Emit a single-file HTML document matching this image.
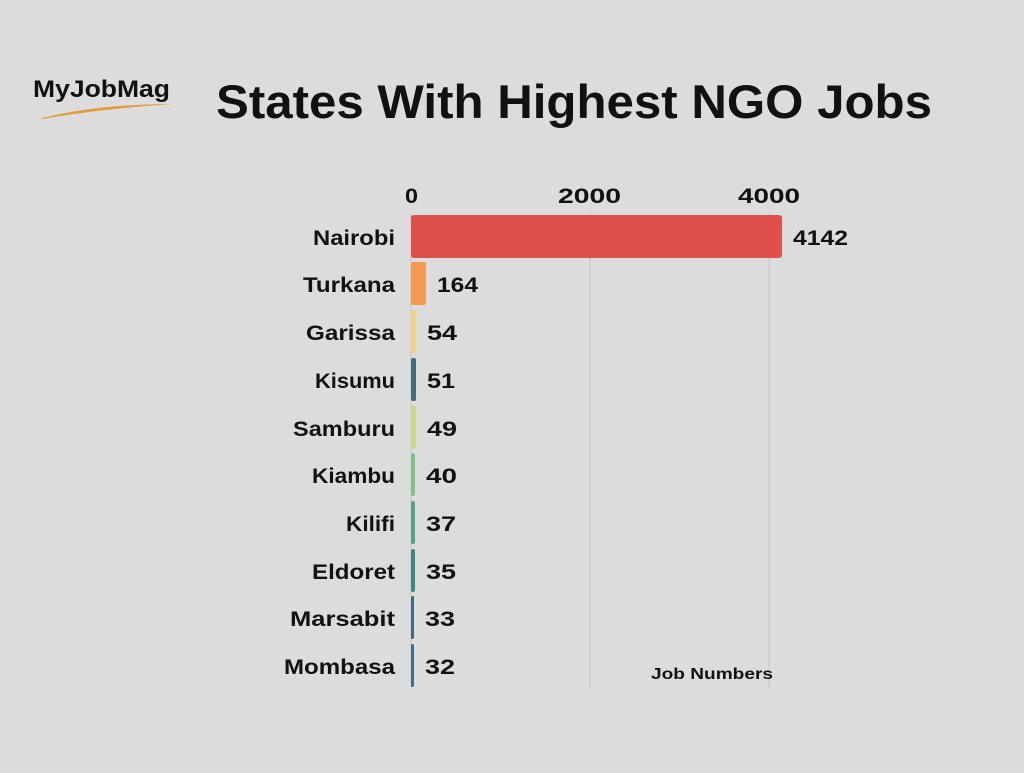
<!DOCTYPE html>
<html><head><style>
body{margin:0;background:#dcdcdc;}
svg text{font-family:"Liberation Sans",sans-serif;font-weight:bold;fill:#111;}
</style></head><body>
<svg width="1024" height="768" viewBox="0 0 1024 768">
<rect width="1024" height="768" fill="#dcdcdc"/>
<text x="33" y="97" font-size="24" fill="#222" textLength="137" lengthAdjust="spacingAndGlyphs">MyJobMag</text>
<path d="M42 118 Q100 104 172 104 Q100 109 42 119 Z" fill="#e59a3c"/>
<text x="216" y="118" font-size="47" textLength="716" lengthAdjust="spacingAndGlyphs">States With Highest NGO Jobs</text>
<g font-size="21">
<text x="405" y="203" textLength="13" lengthAdjust="spacingAndGlyphs">0</text>
<text x="558" y="203" textLength="63" lengthAdjust="spacingAndGlyphs">2000</text>
<text x="738" y="203" textLength="62" lengthAdjust="spacingAndGlyphs">4000</text>
</g>
<line x1="590" y1="214" x2="590" y2="688" stroke="#c4c4c4" stroke-width="1"/>
<line x1="769" y1="214" x2="769" y2="688" stroke="#c4c4c4" stroke-width="1"/>
<line x1="411" y1="214" x2="411" y2="688" stroke="#c4c4c4" stroke-width="1"/>
<g>
<rect x="411" y="215" width="371" height="43" rx="3" fill="#e0504a"/>
<rect x="411" y="262" width="15" height="43" rx="2" fill="#ef9c4e"/>
<rect x="411" y="310" width="5" height="43" rx="2" fill="#f2d27e"/>
<rect x="411" y="358" width="5" height="43" rx="2" fill="#3f6f7a"/>
<rect x="411" y="406" width="5" height="43" rx="2" fill="#c6dc8a"/>
<rect x="411" y="453" width="4" height="43" rx="2" fill="#84c184"/>
<rect x="411" y="501" width="4" height="43" rx="2" fill="#4fa585"/>
<rect x="411" y="549" width="4" height="43" rx="2" fill="#3b8a80"/>
<rect x="411" y="596" width="3" height="43" rx="1.5" fill="#3d6a7c"/>
<rect x="411" y="644" width="3" height="43" rx="1.5" fill="#3c6e9a"/>
</g>
<g font-size="21">
<text x="313" y="245" textLength="82" lengthAdjust="spacingAndGlyphs">Nairobi</text>
<text x="303" y="292" textLength="92" lengthAdjust="spacingAndGlyphs">Turkana</text>
<text x="306" y="340" textLength="89" lengthAdjust="spacingAndGlyphs">Garissa</text>
<text x="315" y="388" textLength="80" lengthAdjust="spacingAndGlyphs">Kisumu</text>
<text x="293" y="436" textLength="102" lengthAdjust="spacingAndGlyphs">Samburu</text>
<text x="312" y="483" textLength="83" lengthAdjust="spacingAndGlyphs">Kiambu</text>
<text x="346" y="531" textLength="49" lengthAdjust="spacingAndGlyphs">Kilifi</text>
<text x="312" y="579" textLength="83" lengthAdjust="spacingAndGlyphs">Eldoret</text>
<text x="290" y="626" textLength="105" lengthAdjust="spacingAndGlyphs">Marsabit</text>
<text x="284" y="674" textLength="111" lengthAdjust="spacingAndGlyphs">Mombasa</text>
</g>
<g font-size="21">
<text x="793" y="245" textLength="55" lengthAdjust="spacingAndGlyphs">4142</text>
<text x="437" y="292" textLength="41" lengthAdjust="spacingAndGlyphs">164</text>
<text x="427" y="340" textLength="30" lengthAdjust="spacingAndGlyphs">54</text>
<text x="427" y="388" textLength="28" lengthAdjust="spacingAndGlyphs">51</text>
<text x="427" y="436" textLength="30" lengthAdjust="spacingAndGlyphs">49</text>
<text x="426" y="483" textLength="31" lengthAdjust="spacingAndGlyphs">40</text>
<text x="426" y="531" textLength="30" lengthAdjust="spacingAndGlyphs">37</text>
<text x="426" y="579" textLength="30" lengthAdjust="spacingAndGlyphs">35</text>
<text x="425" y="626" textLength="30" lengthAdjust="spacingAndGlyphs">33</text>
<text x="425" y="674" textLength="30" lengthAdjust="spacingAndGlyphs">32</text>
</g>
<text x="651" y="679" font-size="16" textLength="122" lengthAdjust="spacingAndGlyphs">Job Numbers</text>
</svg>
</body></html>
